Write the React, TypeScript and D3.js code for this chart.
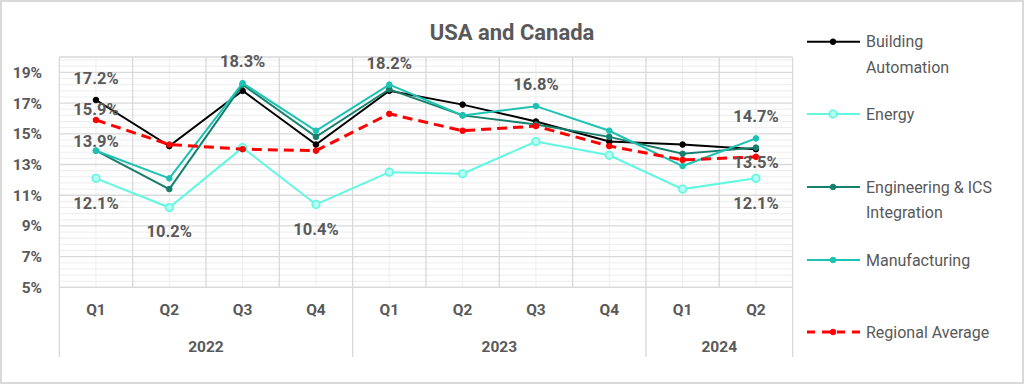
import React from 'react';
import { scaleBand, scaleLinear, line, range } from 'd3';

// quarters and years along the bottom
const quarters = ['Q1', 'Q2', 'Q3', 'Q4', 'Q1', 'Q2', 'Q3', 'Q4', 'Q1', 'Q2'];
const yearLabels = ['2022', '2023', '2024'];
const yearSpans = [4, 4, 2];

// values in percent
const buildingAutomation = [17.2, 14.2, 17.8, 14.3, 17.8, 16.9, 15.8, 14.5, 14.3, 14.0];
const energy = [12.1, 10.2, 14.1, 10.4, 12.5, 12.4, 14.5, 13.6, 11.4, 12.1];
const engineering = [13.9, 11.4, 18.2, 14.8, 17.9, 16.2, 15.6, 14.8, 13.7, 14.1];
const manufacturing = [13.9, 12.1, 18.3, 15.2, 18.2, 16.2, 16.8, 15.2, 12.9, 14.7];
const regionalAverage = [15.9, 14.3, 14.0, 13.9, 16.3, 15.2, 15.5, 14.2, 13.3, 13.5];

const yTicks = [5, 7, 9, 11, 13, 15, 17, 19];

const series = [
  { name: ['Building', 'Automation'], values: buildingAutomation, color: '#000000', width: 2, dash: '', r: 2.8, hollow: false },
  { name: ['Energy'], values: energy, color: '#5ff8e0', width: 2, dash: '', r: 3.8, hollow: true },
  { name: ['Engineering & ICS', 'Integration'], values: engineering, color: '#17806d', width: 2, dash: '', r: 2.8, hollow: false },
  { name: ['Manufacturing'], values: manufacturing, color: '#1cc2b4', width: 2, dash: '', r: 2.8, hollow: false },
  { name: ['Regional Average'], values: regionalAverage, color: '#ff0000', width: 3, dash: '10,6', r: 2.8, hollow: false },
];

// which points carry a data label: [series index, point index, offset]
const dataLabels: [number, number, number][] = [
  [0, 0, -22],
  [4, 0, -11],
  [2, 0, -9],
  [1, 0, 25],
  [1, 1, 24],
  [3, 2, -22],
  [1, 3, 25],
  [3, 4, -21],
  [3, 6, -22],
  [3, 9, -22],
  [4, 9, 5],
  [1, 9, 25],
];

const W = 1024;
const H = 384;
const left = 59.3;
const right = 792.6;
const top = 57;
const bottom = 287.4;
const textColor = '#595959';
const font = 'Roboto, "Open Sans", sans-serif';

export default function App() {
  const x = scaleBand<number>().domain(range(quarters.length)).range([left, right]).padding(0);
  const cx = (i: number) => (x(i) as number) + x.bandwidth() / 2;
  const y = scaleLinear().domain([5, 20]).range([bottom, top]);

  const minor = range(5, 20.01, 0.4).filter(v => Math.abs((v - 5) % 2) > 0.01 && Math.abs(((v - 5) % 2) - 2) > 0.01);
  const major = range(5, 21, 2).concat([20]);

  const path = line<number>().x((_, i) => cx(i)).y(d => y(d));

  let acc = 0;
  const yearBounds = yearSpans.map(s => {
    const start = acc;
    acc += s;
    return [start, acc];
  });

  return (
    <svg width={W} height={H} style={{ position: 'absolute', left: 0, top: 0, background: '#fff' }} fontFamily={font}>
      <rect x={1} y={1} width={W - 2} height={H - 2} fill="#fff" stroke="#d9d9d9" strokeWidth={2} />
      <text x={512} y={32} dy="0.35em" textAnchor="middle" fontSize={22} fontWeight="bold" fill={textColor}>USA and Canada</text>

      {/* minor grid */}
      {minor.map(v => (
        <line key={'mh' + v} x1={left} x2={right} y1={y(v)} y2={y(v)} stroke="#ededed" strokeWidth={1} />
      ))}
      {quarters.map((_, i) => (
        <line key={'mv' + i} x1={cx(i)} x2={cx(i)} y1={top} y2={bottom} stroke="#ededed" strokeWidth={1} />
      ))}
      {/* major grid */}
      {major.map(v => (
        <line key={'h' + v} x1={left} x2={right} y1={y(v)} y2={y(v)} stroke="#d9d9d9" strokeWidth={1.3} />
      ))}
      {range(quarters.length + 1).map(i => {
        const xx = i < quarters.length ? (x(i) as number) : right;
        return <line key={'v' + i} x1={xx} x2={xx} y1={top} y2={bottom} stroke="#d9d9d9" strokeWidth={1.3} />;
      })}

      {/* y axis labels */}
      {yTicks.map(v => (
        <text key={'yt' + v} x={42} y={y(v)} dy="0.35em" textAnchor="end" fontSize={15.5} fontWeight="bold" fill={textColor}>{v}%</text>
      ))}

      {/* category axis */}
      {quarters.map((q, i) => (
        <text key={'q' + i} x={cx(i)} y={310} dy="0.35em" textAnchor="middle" fontSize={15.5} fontWeight="bold" fill={textColor}>{q}</text>
      ))}
      {yearBounds.map(([s, e], k) => {
        const x0 = x(s) as number;
        const x1 = e < quarters.length ? (x(e) as number) : right;
        return (
          <text key={'yr' + k} x={(x0 + x1) / 2} y={347} dy="0.35em" textAnchor="middle" fontSize={15.5} fontWeight="bold" fill={textColor}>{yearLabels[k]}</text>
        );
      })}
      {[0, ...yearBounds.map(b => b[1])].map(i => {
        const xx = i < quarters.length ? (x(i) as number) : right;
        return <line key={'yd' + i} x1={xx} x2={xx} y1={bottom} y2={357} stroke="#d9d9d9" strokeWidth={1.3} />;
      })}
      <line x1={left} x2={right} y1={bottom} y2={bottom} stroke="#d9d9d9" strokeWidth={1.3} />

      {/* series */}
      {series.map((s, k) => (
        <g key={'s' + k}>
          <path d={path(s.values) as string} fill="none" stroke={s.color} strokeWidth={s.width} strokeDasharray={s.dash} />
          {s.values.map((v, i) => (
            <circle key={i} cx={cx(i)} cy={y(v)} r={s.r} fill={s.hollow ? '#b5fff2' : s.color} stroke={s.color} strokeWidth={s.hollow ? 1.6 : 1} />
          ))}
        </g>
      ))}

      {/* data labels */}
      {dataLabels.map(([si, pi, dy], k) => (
        <text key={'dl' + k} x={cx(pi)} y={y(series[si].values[pi]) + dy} dy="0.35em" textAnchor="middle" fontSize={16.5} fontWeight="bold" fill={textColor}>
          {series[si].values[pi].toFixed(1)}%
        </text>
      ))}

      {/* legend */}
      {series.map((s, k) => {
        const ly = [41.7, 114, 187, 260, 332][k];
        return (
          <g key={'lg' + k}>
            <line x1={807} x2={860} y1={ly} y2={ly} stroke={s.color} strokeWidth={s.width} strokeDasharray={s.dash ? '8,7' : ''} />
            <circle cx={833} cy={ly} r={s.r} fill={s.hollow ? '#b5fff2' : s.color} stroke={s.color} strokeWidth={s.hollow ? 1.6 : 1} />
            {s.name.map((n, j) => (
              <text key={j} x={866} y={ly + j * 25.5} dy="0.35em" fontSize={16} fill={textColor}>{n}</text>
            ))}
          </g>
        );
      })}
    </svg>
  );
}
